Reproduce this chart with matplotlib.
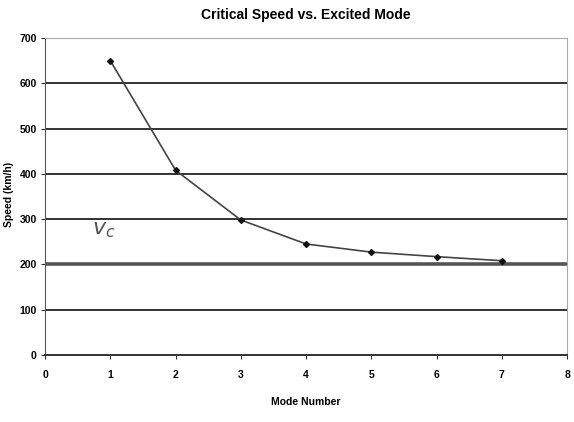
import matplotlib
matplotlib.use("Agg")
import matplotlib.pyplot as plt

modes = [1, 2, 3, 4, 5, 6, 7]
speeds = [650, 408, 298, 245, 227, 217, 208]
x_ticks = [0, 1, 2, 3, 4, 5, 6, 7, 8]
y_ticks = [0, 100, 200, 300, 400, 500, 600, 700]

plt.rcParams['font.family'] = ['Liberation Sans Narrow', 'Liberation Sans', 'DejaVu Sans']

fig = plt.figure(figsize=(5.74, 4.22), dpi=100)
ax = fig.add_axes([0.0784, 0.159, 0.9096, 0.751])

for yv in y_ticks[1:]:
    lw = 2.6 if yv == 200 else 1.4
    col = '#555555' if yv == 200 else '#333333'
    ax.axhline(yv, color=col, lw=lw, zorder=1)

ax.plot(modes, speeds, color='#444444', lw=1.2, marker='D', markersize=3,
        markerfacecolor='#111111', markeredgecolor='#111111', zorder=3)

ax.text(0.72, 278, r'$v_c$', fontsize=16, color='#555555',
        family='DejaVu Serif', ha='left', va='center')

ax.set_xlim(0, 8)
ax.set_ylim(0, 700)
ax.set_xticks(x_ticks)
ax.set_yticks(y_ticks)
ax.tick_params(axis='both', labelsize=7.5, length=3, width=0.8, color='#333333', pad=8)
for lab in ax.get_xticklabels() + ax.get_yticklabels():
    lab.set_fontweight('bold')
ax.tick_params(axis='y', pad=3)

for side in ['top', 'right']:
    ax.spines[side].set_color('#aaaaaa')
    ax.spines[side].set_linewidth(0.8)
ax.spines['left'].set_color('#555555')
ax.spines['bottom'].set_color('#333333')
ax.spines['bottom'].set_linewidth(1.4)

ax.set_title('Critical Speed vs. Excited Mode', fontsize=10, fontweight='bold', pad=14)
ax.set_xlabel('Mode Number', fontsize=7.5, fontweight='bold', labelpad=12)
fig.text(0.016, 0.54, 'Speed (km/h)', fontsize=7.5, fontweight='bold',
         rotation=90, ha='center', va='center')

fig.savefig('out.png', dpi=100)
